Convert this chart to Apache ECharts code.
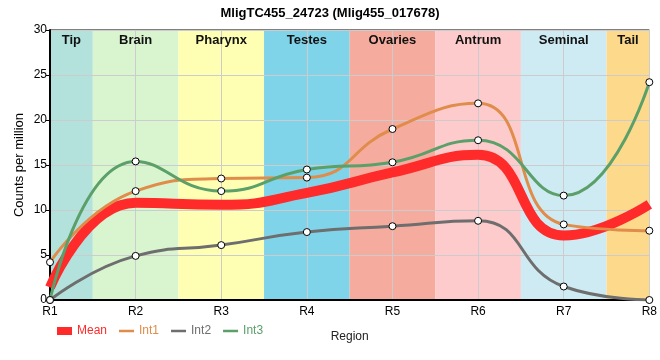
<!DOCTYPE html>
<html><head><meta charset="utf-8">
<script src="https://cdn.jsdelivr.net/npm/echarts@6/dist/echarts.min.js"></script>
<style>html,body{margin:0;padding:0;background:#fff}#c{width:660px;height:360px}</style>
</head><body><div id="c"></div>
<script>
const categories = ['R1','R2','R3','R4','R5','R6','R7','R8'];
const int1 = [4.2, 12.1, 13.5, 13.6, 19.0, 21.85, 8.4, 7.7];
const int2 = [0, 4.9, 6.1, 7.55, 8.2, 8.8, 1.5, 0];
const int3 = [0, 15.4, 12.1, 14.5, 15.3, 17.75, 11.6, 24.2];
const meanVals = [1.4, 10.8, 10.57, 11.9, 14.17, 16.13, 7.17, 10.63];
const regionNames = ['Tip','Brain','Pharynx','Testes','Ovaries','Antrum','Seminal','Tail'];
const regionStart = [1, 1.5, 2.5, 3.5, 4.5, 5.5, 6.5, 7.5];
const regionEnd   = [1.5, 2.5, 3.5, 4.5, 5.5, 6.5, 7.5, 8];
const regionColors = ['#b3e2dd','#d9f5d0','#ffffb3','#80d4ea','#f5ac9e','#fdcbcc','#ceebf4','#fdd98b'];
const yTicks = [0, 5, 10, 15, 20, 25, 30];

const colors = {Mean:'#ff2a2a', Int1:'#e08c4a', Int2:'#6e6e6e', Int3:'#5b9f69'};
const toPts = arr => arr.map((v,i)=>[i+1, v]);

const chart = echarts.init(document.getElementById('c'), null, {renderer:'canvas'});
const font = 'Liberation Sans, Arial, sans-serif';
function lineSeries(name, data, width, sym) {
  return {
    name, type:'line', data: toPts(data), smooth: 0.5, z: 3,
    lineStyle:{color:colors[name], width},
    itemStyle:{color:'#fff', borderColor:'#000', borderWidth:1},
    symbol: sym ? 'circle' : 'none', symbolSize: 7, showSymbol: sym,
    animation:false, emphasis:{disabled:true}
  };
}
const lineIcon = 'path://M0,0 L15,0 L15,2.5 L0,2.5 Z';
chart.setOption({
  animation:false,
  textStyle:{fontFamily:font},
  title:{text:'MligTC455_24723 (Mlig455_017678)', left:'center', top:2,
    textStyle:{fontSize:13, fontWeight:'bold', color:'#000', fontFamily:font}},
  grid:{left:50, right:10, top:30, bottom:60, show:true, borderColor:'#000', borderWidth:1, backgroundColor:'transparent'},
  legend:{left:52, top:320, itemGap:12, itemWidth:15, itemHeight:8, symbolKeepAspect:true,
    textStyle:{fontSize:12, fontFamily:font},
    data:[
      {name:'Mean', icon:'rect', itemStyle:{color:colors.Mean, borderWidth:0}, textStyle:{color:colors.Mean}},
      {name:'Int1', icon:lineIcon, itemStyle:{color:colors.Int1, borderWidth:0}, textStyle:{color:colors.Int1}},
      {name:'Int2', icon:lineIcon, itemStyle:{color:colors.Int2, borderWidth:0}, textStyle:{color:colors.Int2}},
      {name:'Int3', icon:lineIcon, itemStyle:{color:colors.Int3, borderWidth:0}, textStyle:{color:colors.Int3}}
    ]},
  xAxis:{type:'value', min:1, max:8, interval:1, z:1,
    name:'Region', nameLocation:'middle', nameGap:31,
    nameTextStyle:{color:'#222', fontSize:12, fontFamily:font},
    axisLine:{lineStyle:{color:'#000', width:2}},
    axisTick:{show:false},
    axisLabel:{color:'#000', fontSize:12, margin:6, formatter:v=>categories[v-1]||''},
    splitLine:{show:true, lineStyle:{color:'#cccccc', width:1}}},
  yAxis:{type:'value', min:0, max:30, interval:5, z:1,
    name:'Counts per million', nameLocation:'middle', nameGap:24, nameMoveOverlap:false,
    nameTextStyle:{color:'#000', fontSize:13, fontFamily:font},
    axisLine:{show:true, lineStyle:{color:'#000', width:2}},
    axisTick:{show:true, length:4, lineStyle:{color:'#000'}},
    axisLabel:{color:'#000', fontSize:12, margin:3, formatter:v=>yTicks.includes(v)?String(v):''},
    splitLine:{show:true, lineStyle:{color:'#cccccc', width:1}}},
  series:[
    {name:'bands', type:'line', data:[], z:0, zlevel:0, silent:true,
      markArea:{silent:true, z:0, label:{show:false},
        data: regionNames.map((n,i)=>[
          {name:n, xAxis:regionStart[i], itemStyle:{color:regionColors[i], opacity:1}},
          {xAxis:regionEnd[i]}
        ])}},
    {name:'bandLabels', type:'line', data:[], z:2, silent:true,
      markArea:{silent:true, z:2,
        label:{show:true, position:'insideTop', distance:4, color:'#111', fontSize:13, fontWeight:'bold', fontFamily:font},
        data: regionNames.map((n,i)=>[
          {name:n, xAxis:regionStart[i], itemStyle:{color:'rgba(0,0,0,0)'}},
          {xAxis:regionEnd[i]}
        ])}},
    lineSeries('Mean', meanVals, 10, false),
    lineSeries('Int1', int1, 3, true),
    lineSeries('Int2', int2, 3, true),
    lineSeries('Int3', int3, 3, true)
  ]
});
</script></body></html>
